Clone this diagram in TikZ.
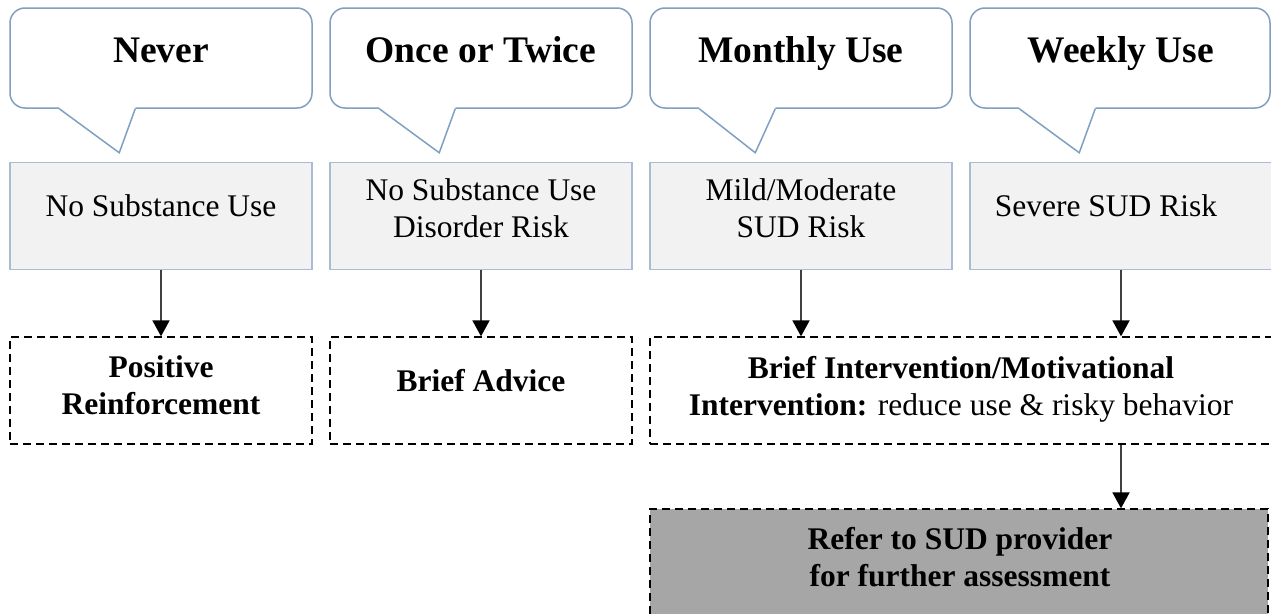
\documentclass[tikz,border=0pt]{standalone}
\usepackage{fontspec}
\setmainfont{Liberation Serif}
\usetikzlibrary{arrows.meta}
\definecolor{callblue}{HTML}{7F9FC3}
\definecolor{boxedge}{HTML}{A7BDD6}
\definecolor{boxfill}{HTML}{F2F2F2}
\definecolor{arrowgray}{HTML}{404040}
\definecolor{refgray}{HTML}{A6A6A6}
\newcommand\calltail[2]{%
  \fill[white] ([xshift=50pt,yshift=2.5pt]#1.south west) -- ([xshift=50pt]#1.south west) -- ([xshift=#2pt,yshift=-44pt]#1.south west) -- ([xshift=126pt]#1.south west) -- ([xshift=126pt,yshift=2.5pt]#1.south west) -- cycle;
  \draw[callline] ([xshift=50pt]#1.south west) -- ([xshift=#2pt,yshift=-44pt]#1.south west) -- ([xshift=126pt]#1.south west);
}
\begin{document}
\begin{tikzpicture}[x=1pt,y=-1pt,
  callline/.style={draw=callblue, line width=1.5pt, line join=miter},
  callout/.style={draw=callblue, line width=1.5pt, rounded corners=15pt, fill=white, minimum width=302pt, minimum height=100pt, inner sep=0pt},
  calltext/.style={font=\fontsize{37.5}{44}\selectfont\bfseries, inner sep=0pt, text height=25.5pt, text depth=0pt},
  graybox/.style={draw=boxedge, line width=1.2pt, fill=boxfill, minimum width=302pt, minimum height=107pt, inner sep=0pt},
  plaintext/.style={font=\fontsize{31.5}{37}\selectfont, align=center, inner sep=0pt},
  oneline/.style={text height=21.4pt, text depth=0pt},
  dashbox/.style={draw=black, line width=1.3pt, dash pattern=on 8pt off 5pt, minimum height=107pt, inner sep=0pt},
  boldtext/.style={font=\fontsize{31.5}{37}\selectfont\bfseries, align=center, inner sep=0pt},
  arr/.style={draw=arrowgray, line width=1.8pt, -{Triangle[width=17pt,length=16pt,color=black,fill=black]}}]
\clip (0,0) rectangle (1271,613);
\fill[white] (0,0) rectangle (1271,613);
% callouts
\node[callout] (c1) at (161,58) {};
\node[callout] (c2) at (481,58) {};
\node[callout] (c3) at (801,58) {};
\node[callout, minimum width=300pt] (c4) at (1120,58) {};
\calltail{c1}{110}
\calltail{c2}{110}
\calltail{c3}{106}
\calltail{c4}{110}
\node[calltext] (c1t) at (161,50) {Never};
\node[calltext] (c2t) at (481,50) {Once or Twice};
\node[calltext] (c3t) at (801,50) {Monthly Use};
\node[calltext] (c4t) at (1121,50) {Weekly Use};
% gray boxes
\node[graybox] (g1) at (161,216) {};
\node[graybox] (g2) at (481,216) {};
\node[graybox] (g3) at (801,216) {};
\node[graybox] (g4) at (1121,216) {};
\node[plaintext, oneline] (g1t) at (161,206) {No Substance Use};
\node[plaintext] (g2t) at (481,208) {No Substance Use\\Disorder Risk};
\node[plaintext] (g3t) at (801,208) {Mild/Moderate\\SUD Risk};
\node[plaintext, oneline] (g4t) at (1106,206) {Severe SUD Risk};
% dashed boxes
\node[dashbox, minimum width=302pt] (d1) at (161,390.5) {};
\node[dashbox, minimum width=302pt] (d2) at (481,390.5) {};
\node[dashbox, minimum width=622pt] (d3) at (961,390.5) {};
\node[boldtext] (d1t) at (161,385.5) {Positive\\Reinforcement};
\node[boldtext, oneline] (d2t) at (481,381) {Brief Advice};
\node[boldtext] (d3t) at (961,389) {Brief Intervention/Motivational\\Intervention: \mdseries reduce use \& risky behavior};
% refer box
\node[dashbox, fill=refgray, minimum width=618pt, minimum height=110pt] (r) at (959,564) {};
\node[boldtext] (rt) at (960,557.5) {Refer to SUD provider\\for further assessment};
% arrows
\draw[arr] (g1.south) -- (d1.north);
\draw[arr] (g2.south) -- (d2.north);
\draw[arr] (g3.south) -- (g3.south |- d3.north);
\draw[arr] (g4.south) -- (g4.south |- d3.north);
\coordinate (bi) at (g4.south |- d3.south);
\draw[arr] (bi) -- (bi |- r.north);
\end{tikzpicture}
\end{document}
